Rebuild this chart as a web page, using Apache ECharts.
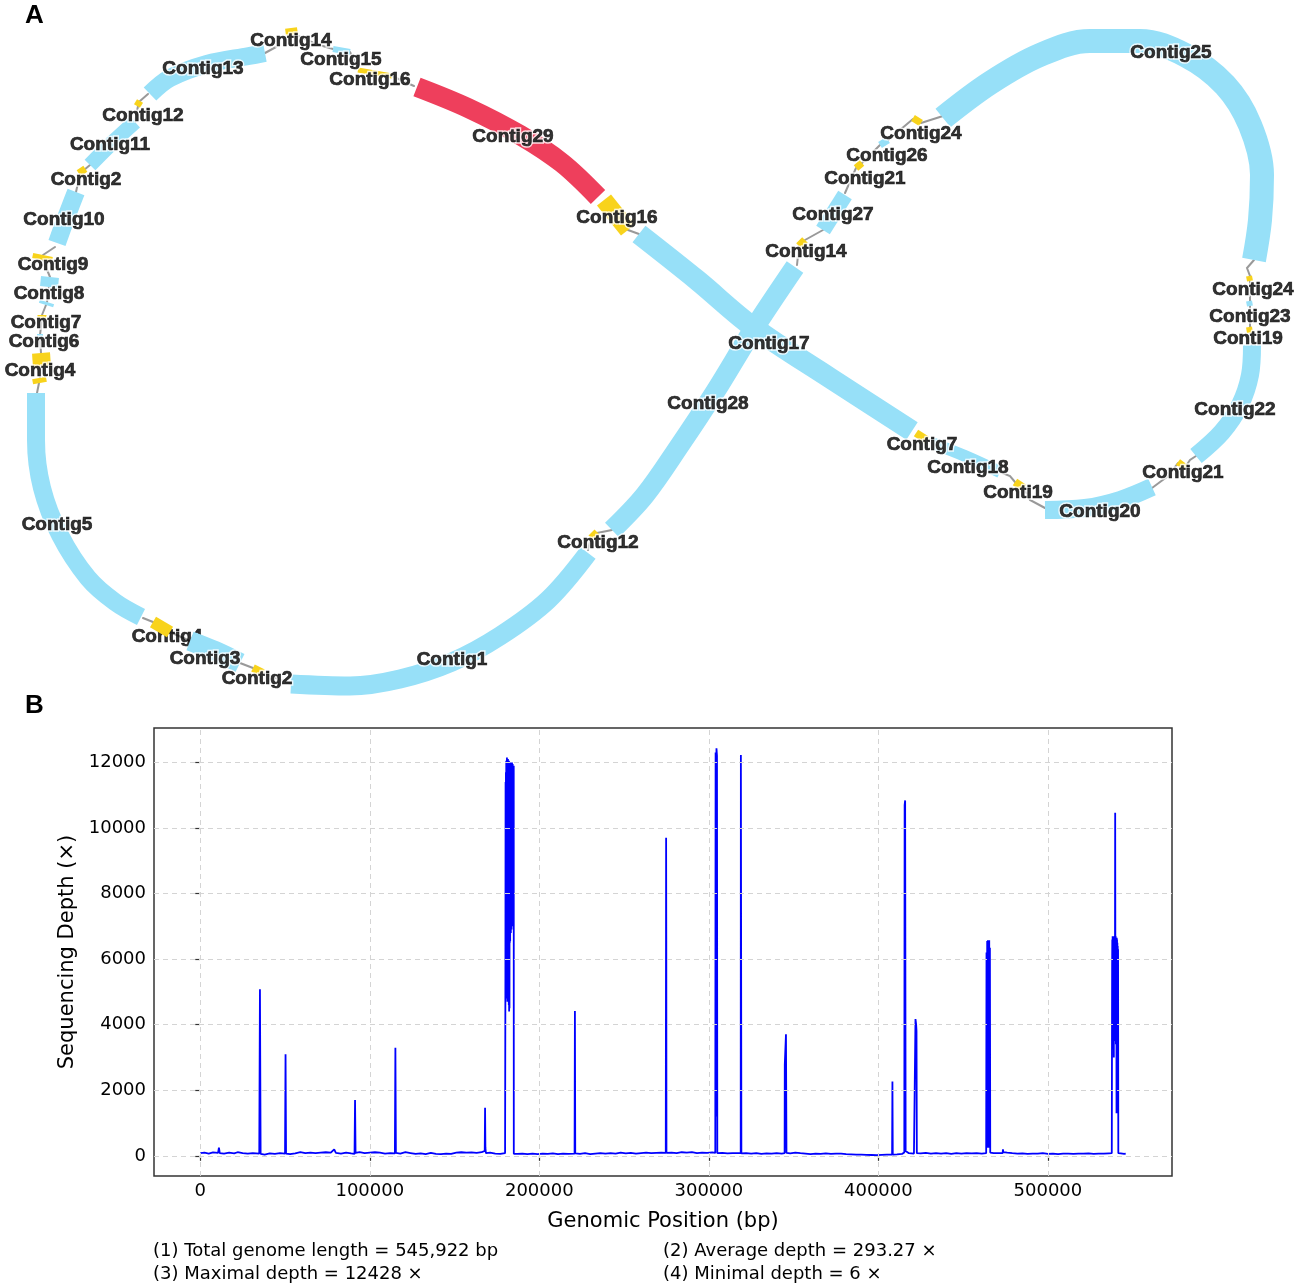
<!DOCTYPE html>
<html><head><meta charset="utf-8">
<script src="https://cdn.jsdelivr.net/npm/echarts@6/dist/echarts.min.js"></script>
<style>html,body{margin:0;padding:0;background:#fff}#c{width:1299px;height:1287px}</style>
</head><body><div id="c"></div>
<script>
// ---------------- Panel A data: assembly graph layout ----------------
const contigNames = ['Contig29','Contig16','Contig17','Contig7','Contig18','Conti19','Contig20','Contig21','Contig22','Conti19','Contig23','Contig24','Contig25','Contig24','Contig26','Contig21','Contig27','Contig14','Contig28','Contig12','Contig1','Contig2','Contig3','Contig4','Contig5','Contig4','Contig4','Contig6','Contig7','Contig8','Contig8','Contig9','Contig10','Contig2','Contig11','Contig12','Contig13','Contig14','Contig15','Contig16'];
const contigKinds = ['target','repeat','unique','repeat','unique','repeat','unique','repeat','unique','repeat','unique','repeat','unique','repeat','unique','repeat','unique','repeat','unique','repeat','unique','repeat','unique','repeat','unique','repeat','repeat','unique','repeat','unique','unique','repeat','unique','repeat','unique','repeat','unique','repeat','unique','repeat'];
const contigPaths = [
  [[417,87],[468,108],[520,135],[562,163],[598,197]],
  [[604,200],[628,230]],
  [[639,234],[697,280],[753,327],[830,378],[912,431]],
  [[916,433],[927,440]],
  [[932,443],[965,456],[1000,472]],
  [[1015,482],[1024,488]],
  [[1045,510],[1085,508],[1120,500],[1152,487]],
  [[1178,462],[1186,468]],
  [[1196,456],[1222,432],[1240,405],[1250,375],[1252,345]],
  [[1249,327],[1250,333]],
  [[1249,301],[1250,306]],
  [[1249,276],[1250,281]],
  [[943,118],[990,83],[1040,55],[1090,41],[1140,41],[1185,55],[1225,85],[1250,125],[1262,175],[1260,220],[1254,260]],
  [[913,118],[921,123]],
  [[880,145],[888,140]],
  [[856,168],[862,163]],
  [[823,230],[845,195]],
  [[799,246],[805,240]],
  [[612,530],[645,495],[680,445],[715,392],[753,330],[795,267]],
  [[591,538],[597,532]],
  [[291,684],[350,686],[400,679],[452,662],[500,636],[548,600],[588,553]],
  [[253,668],[263,673]],
  [[190,641],[215,651],[240,663]],
  [[153,622],[170,632]],
  [[36,393],[36,440],[42,488],[60,535],[88,578],[115,602],[141,617]],
  [[39,378],[40,383]],
  [[41,353],[42,367]],
  [[40,334],[40,337]],
  [[42,315],[42,318]],
  [[47,302],[46,305]],
  [[50,277],[49,287]],
  [[43,255],[42,260]],
  [[76,192],[66,218],[57,243]],
  [[80,168],[84,174]],
  [[135,122],[112,143],[90,165]],
  [[137,106],[140,101]],
  [[150,94],[170,78],[207,64],[249,56],[265,53]],
  [[291,28],[292,35]],
  [[333,49],[350,52]],
  [[358,70],[392,76]]
];
const linkPaths = [
  [[265,53],[276,47]], [[298,36],[316,44],[333,49]], [[350,52],[358,68]], [[392,76],[405,82],[414,86]],
  [[628,230],[639,234]], [[927,440],[932,443]], [[1000,472],[1010,476],[1015,482]], [[1024,488],[1030,500],[1045,508]],
  [[1152,488],[1168,476],[1178,463]], [[1186,466],[1190,460],[1196,456]], [[1252,345],[1250,333]], [[1250,327],[1250,306]],
  [[1250,301],[1250,281]], [[1250,276],[1247,268],[1254,260]], [[943,116],[921,123]], [[913,119],[888,140]],
  [[880,145],[862,163]], [[856,168],[845,193]], [[823,230],[805,240]], [[799,246],[797,265]],
  [[612,530],[597,533]], [[591,538],[588,550]], [[291,684],[263,673]], [[253,668],[240,663]],
  [[190,641],[170,632]], [[153,622],[143,618]], [[37,393],[39,383]], [[40,378],[41,367]],
  [[41,353],[40,337]], [[40,335],[42,318]], [[42,315],[46,305]], [[47,302],[49,287]],
  [[50,277],[43,260]], [[43,255],[55,247]], [[76,192],[80,174]], [[84,170],[90,165]],
  [[135,122],[138,106]], [[140,101],[148,94]]
];
const labelNames = ['Contig14','Contig15','Contig16','Contig13','Contig12','Contig11','Contig2','Contig10','Contig9','Contig8','Contig7','Contig6','Contig4','Contig5','Contig3','Contig2','Contig1','Contig12','Contig28','Contig17','Contig29','Contig16','Contig14','Contig27','Contig21','Contig26','Contig24','Contig25','Contig24','Contig23','Conti19','Contig22','Contig21','Contig20','Conti19','Contig18','Contig7'];
const labelPos = [[291,41],[341,60],[370,80],[203,69],[143,116],[110,145],[86,180],[64,220],[53,265],[49,294],[46,323],[44,342],[40,371],[57,525],[205,659],[257,679],[452,660],[598,543],[708,404],[769,344],[513,137],[617,218],[806,252],[833,215],[865,179],[887,156],[921,134],[1171,53],[1253,290],[1250,317],[1248,339],[1235,410],[1183,473],[1100,512],[1018,493],[968,468],[922,445]];
const coveredLabelNames = ['Contig4'];
const coveredLabelPos = [[167,637]];

// ---------------- Panel B data: sequencing depth trace ----------------
const depthTrace = [
 [0,80],[2500,95],[5000,70],[7500,105],[10500,90],[11000,250],[11500,85],[14000,70],[17000,95],[20000,75],[22000,110],[25000,80],[28000,65],[31000,85],
 [34800,70],[35200,5080],[35600,60],[38000,40],[41000,75],[44000,60],[47000,80],[50000,70],[50300,3100],[50600,65],[53000,50],[56000,75],[59000,110],
 [62000,80],[65000,95],[68000,85],[71000,100],[74000,110],[77000,95],[79000,200],[80000,90],[83000,70],[86000,100],[89000,75],[91000,60],[91300,1700],
 [91600,90],[94000,110],[97000,85],[100000,100],[103000,110],[106000,95],[109000,70],[112000,80],[114800,75],[115100,3300],[115400,90],[118000,70],
 [121000,110],[124000,85],[127000,60],[130000,75],[133000,55],[136000,90],[139000,60],[142000,55],[145000,70],[148000,60],[151000,95],[154000,110],
 [157000,100],[160000,105],[163000,90],[166000,110],[167800,150],[168000,1470],[168200,250],[168500,80],[171000,95],[174000,70],[177000,60],[179800,80],
 [180000,5500],[180100,11400],[180200,5300],[180300,11700],[180400,5000],[180500,12050],[180600,4800],[180700,11800],[180800,5400],[180900,12150],
 [181000,5100],[181100,12100],[181200,4700],[181300,11900],[181400,5600],[181500,12100],[181600,4900],[181700,12050],[181800,5300],[181900,11950],
 [182000,4600],[182100,12050],[182200,4400],[182300,12000],[182400,4500],[182500,11950],[182600,6500],[182700,12000],[182800,6550],[182900,11900],
 [183000,7000],[183100,12000],[183200,6800],[183300,11900],[183400,7200],[183500,12000],[183600,6900],[183700,11950],[183800,7300],[183900,12000],
 [184000,7000],[184100,11900],[184200,7400],[184300,11950],[184400,7100],[184500,11900],[184600,7500],[184700,11850],[184800,7200],[184900,11900],[184950,60],
 [187000,60],[190000,70],[193000,50],[196000,65],[199000,55],[202000,70],[205000,60],[208000,75],[211000,55],[214000,70],[217000,60],[220800,70],
 [221000,4420],[221200,75],[224000,60],[227000,80],[230000,55],[233000,70],[236000,85],[239000,65],[242000,80],[245000,70],[248000,95],[251000,75],
 [254000,90],[257000,70],[260000,85],[263000,95],[266000,80],[269000,90],[272000,100],[274600,90],[274750,6800],[274800,9700],[274900,6700],[275000,90],
 [278000,100],[281000,80],[284000,110],[287000,95],[290000,115],[293000,85],[296000,100],[299000,90],[302000,105],[303800,90],[304000,12300],[304300,1200],
 [304500,12428],[304800,12200],[305000,80],[308000,90],[311000,75],[314000,85],[317000,80],[318800,80],[318900,12225],[319100,12200],[319200,75],
 [322000,80],[325000,70],[328000,85],[331000,60],[334000,75],[337000,65],[340000,80],[343000,70],[344700,80],[344800,2785],[345200,2800],[345500,3706],
 [345800,90],[348000,75],[351000,95],[354000,80],[357000,70],[360000,55],[363000,65],[366000,60],[369000,75],[372000,60],[375000,70],[378000,65],
 [381000,50],[384000,45],[387000,40],[390000,35],[393000,30],[396000,25],[399000,20],[402000,30],[405000,35],[408100,40],[408300,2270],[408500,40],
 [411000,45],[414000,60],[415300,100],[415500,10700],[415800,10840],[416100,150],[418000,80],[421000,70],[421800,80],[421900,4170],[422300,4000],
 [422500,3810],[422700,80],[425000,75],[428000,90],[431000,70],[434000,80],[437000,65],[440000,85],[443000,60],[446000,80],[449000,70],[452000,85],
 [455000,75],[458000,80],[461000,70],[463600,80],[463800,6200],[464000,300],[464200,6550],[464400,250],[464600,6575],[464800,300],[465000,6500],
 [465200,250],[465400,6575],[465600,300],[465800,6350],[466000,100],[468000,85],[471000,80],[473300,80],[473500,195],[473700,110],[476000,95],
 [479000,80],[482000,70],[485000,75],[488000,60],[491000,70],[494000,65],[497000,80],[500000,60],[503000,70],[506000,55],[509000,70],[512000,65],
 [515000,60],[518000,70],[521000,65],[524000,75],[527000,60],[530000,70],[533000,65],[536000,75],[537700,80],
 [537900,5800],[538000,6600],[538100,3400],[538200,6700],[538300,3800],[538400,6650],[538500,3500],[538600,6700],[538700,3900],[538800,6600],
 [538900,3000],[539000,6700],[539100,3600],[539200,6650],[539300,4000],[539400,6700],[539500,3500],[539600,6600],[539700,10465],[539800,6500],
 [539900,3800],[540000,6700],[540100,3400],[540200,6650],[540300,3900],[540400,6600],[540500,1300],[540600,6650],[540700,3700],[540800,6600],
 [540900,4000],[541000,6500],[541100,1400],[541200,6400],[541300,3800],[541400,6300],[541550,80],[543000,75],[545000,60],[545922,70]
];
const xTicks = [0,100000,200000,300000,400000,500000];
const yTicks = [0,2000,4000,6000,8000,10000,12000];
const statsText = ['(1) Total genome length = 545,922 bp','(2) Average depth = 293.27 \u00d7','(3) Maximal depth = 12428 \u00d7','(4) Minimal depth = 6 \u00d7'];

// ---------------- styling ----------------
const kindColor = {unique:'#97E0F8', repeat:'#F8D31C', target:'#EE3F5C'};
const segWidthPx = [20,18,21,8,12,8,18,7,18,6,6,6,24,7,7,7,16,8,20,7,19,8,20,12,18,14,18,6,9,15,18,20,18,8,15,7,18,12,6,5];

const chart = echarts.init(document.getElementById('c'), null, {renderer:'canvas'});
const tickFont = {fontFamily:'DejaVu Sans', fontSize:18, color:'#000'};
const baseLabel = {show:true, position:'inside', formatter:'{b}', fontFamily:'Liberation Sans, Arial, sans-serif', fontWeight:'bold', fontSize:19};
const haloLabel = Object.assign({}, baseLabel, {color:'#fff', textBorderColor:'#fff', textBorderWidth:3.5});
const inkLabel = Object.assign({}, baseLabel, {color:'#000', textBorderColor:'#000', textBorderWidth:0.7});

const contigSeries = contigPaths.map((p,i)=>({
  type:'line', xAxisIndex:0, yAxisIndex:0, z:4, silent:true, showSymbol:false, symbol:'none',
  smooth: p.length > 2 ? 0.35 : false, clip:false,
  lineStyle:{color:kindColor[contigKinds[i]], width:segWidthPx[i], cap:'butt', join:'round'},
  name: contigNames[i], data: p
}));
const labelData = labelNames.map((n,i)=>({name:n, value:labelPos[i]}));

const option = {
  animation:false,
  backgroundColor:'#fff',
  grid:[
    {left:0, top:0, width:1299, height:700, show:false},
    {left:154, top:728, width:1018, height:448, show:true, borderColor:'#333', borderWidth:1.5, backgroundColor:'transparent'}
  ],
  xAxis:[
    {gridIndex:0, type:'value', min:0, max:1299, show:false},
    {gridIndex:1, type:'value', min:-27296, max:573218,
     axisLine:{show:false}, splitLine:{show:false},
     axisTick:{show:true, inside:false, length:5, lineStyle:{color:'#333', width:1.2}, customValues:xTicks},
     axisLabel:Object.assign({margin:6, customValues:xTicks, formatter:v=>String(v)}, tickFont),
     name:'Genomic Position (bp)', nameLocation:'middle', nameGap:35,
     nameTextStyle:{fontFamily:'DejaVu Sans', fontSize:21, color:'#000'}}
  ],
  yAxis:[
    {gridIndex:0, type:'value', min:0, max:700, inverse:true, show:false},
    {gridIndex:1, type:'value', min:-615, max:13049,
     axisLine:{show:false}, splitLine:{show:false},
     axisTick:{show:true, inside:false, length:5, lineStyle:{color:'#333', width:1.2}, customValues:yTicks},
     axisLabel:Object.assign({margin:8, customValues:yTicks, formatter:v=>String(v)}, tickFont),
     name:'Sequencing Depth (\u00d7)', nameLocation:'middle', nameGap:72, nameRotate:90,
     nameTextStyle:{fontFamily:'DejaVu Sans', fontSize:21, color:'#000'}}
  ],
  series:[
    {type:'lines', coordinateSystem:'cartesian2d', xAxisIndex:0, yAxisIndex:0, polyline:true, z:2, silent:true,
     lineStyle:{color:'#333', width:2, cap:'round'},
     data: linkPaths.map(p=>({coords:p}))}
  ].concat(contigSeries).concat([
    {type:'scatter', xAxisIndex:0, yAxisIndex:0, z:3, symbolSize:0, silent:true, label:inkLabel,
     data: coveredLabelNames.map((n,i)=>({name:n, value:coveredLabelPos[i]}))},
    {type:'scatter', xAxisIndex:0, yAxisIndex:0, z:5, symbolSize:0, silent:true, label:haloLabel, data: labelData},
    {type:'scatter', xAxisIndex:0, yAxisIndex:0, z:6, symbolSize:0, silent:true, label:inkLabel, data: labelData},
    {type:'line', xAxisIndex:1, yAxisIndex:1, data:[], z:1, silent:true,
     markLine:{silent:true, symbol:['none','none'], label:{show:false}, animation:false,
       lineStyle:{color:'#d4d4d4', type:[5,4], width:1},
       data: xTicks.map(v=>({xAxis:v})).concat(yTicks.map(v=>({yAxis:v})))}},
    {type:'line', xAxisIndex:1, yAxisIndex:1, z:3, showSymbol:false, symbol:'none', silent:true,
     lineStyle:{color:'#0000ff', width:1.8}, data: depthTrace}
  ]),
  graphic:[
    {type:'text', left:25, top:3, style:{text:'A', font:'bold 26px "Liberation Sans", Arial', fill:'#000'}},
    {type:'text', left:25, top:693, style:{text:'B', font:'bold 26px "Liberation Sans", Arial', fill:'#000'}},
    {type:'text', left:153, top:1242, style:{text:statsText[0], font:'18px "DejaVu Sans"', fill:'#000'}},
    {type:'text', left:663, top:1242, style:{text:statsText[1], font:'18px "DejaVu Sans"', fill:'#000'}},
    {type:'text', left:153, top:1265, style:{text:statsText[2], font:'18px "DejaVu Sans"', fill:'#000'}},
    {type:'text', left:663, top:1265, style:{text:statsText[3], font:'18px "DejaVu Sans"', fill:'#000'}}
  ]
};
chart.setOption(option);
</script></body></html>
